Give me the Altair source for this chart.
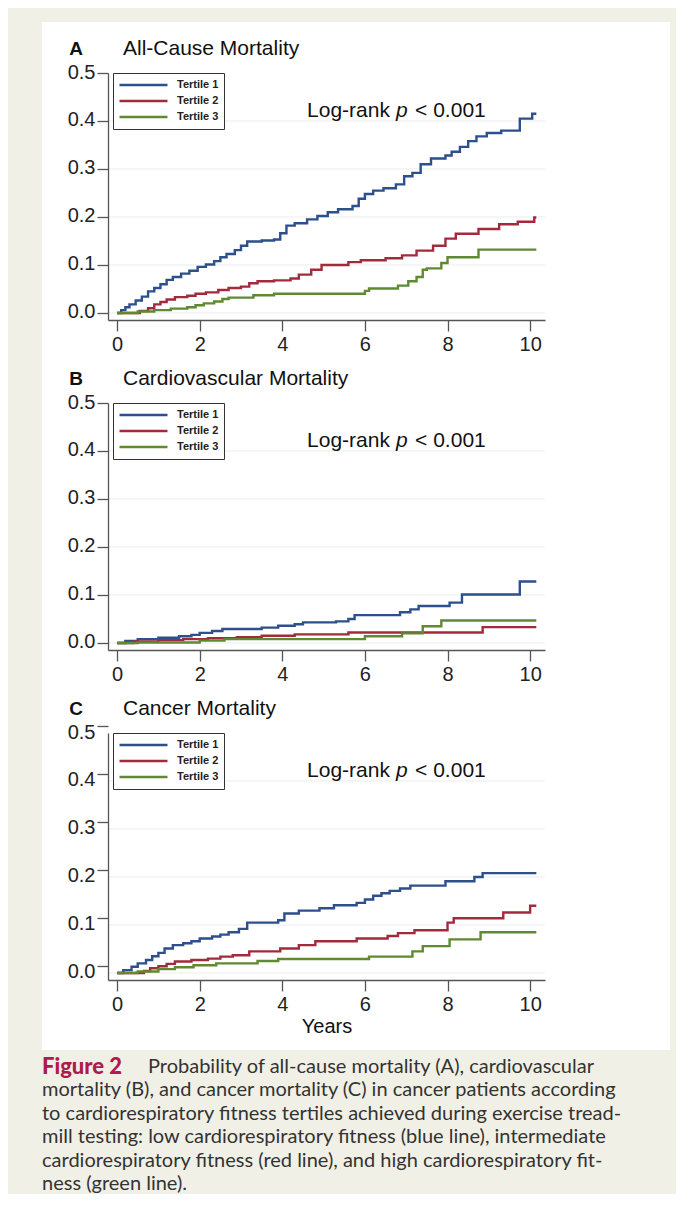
import altair as alt
import pandas as pd

TERTILES = ['Tertile 1', 'Tertile 2', 'Tertile 3']
LINE_COLORS = ['#2d4f8b', '#a22a3c', '#5f8a32']

# step points (years, cumulative probability)

# A - all-cause mortality
A_T1_YEARS = [0, 0.1, 0.2, 0.3, 0.45, 0.6, 0.75, 0.9, 1.05, 1.2, 1.35, 1.55, 1.75,
              1.95, 2.15, 2.35, 2.5, 2.65, 2.85, 3.0, 3.15, 3.5, 3.8, 3.95, 4.1,
              4.3, 4.6, 4.85, 5.1, 5.35, 5.7, 5.85, 6.0, 6.2, 6.45, 6.75, 6.95,
              7.15, 7.35, 7.6, 7.95, 8.1, 8.3, 8.5, 8.7, 8.95, 9.3, 9.75, 10.05, 10.15]
A_T1_PROB = [0, 0.006, 0.012, 0.018, 0.026, 0.034, 0.045, 0.052, 0.06, 0.069, 0.075,
             0.082, 0.088, 0.096, 0.101, 0.108, 0.116, 0.123, 0.131, 0.14, 0.149,
             0.151, 0.153, 0.166, 0.182, 0.187, 0.195, 0.202, 0.21, 0.216, 0.223,
             0.238, 0.248, 0.255, 0.26, 0.268, 0.285, 0.292, 0.31, 0.322, 0.328,
             0.336, 0.346, 0.358, 0.368, 0.375, 0.38, 0.405, 0.415, 0.415]
A_T2_YEARS = [0, 0.55, 0.75, 0.9, 1.05, 1.2, 1.4, 1.7, 1.9, 2.15, 2.45, 2.7, 3.0,
              3.2, 3.4, 3.8, 4.2, 4.4, 4.7, 4.95, 5.6, 5.9, 6.5, 6.9, 7.25, 7.65,
              7.95, 8.2, 8.75, 9.25, 9.7, 10.1, 10.15]
A_T2_PROB = [0, 0.004, 0.01, 0.018, 0.023, 0.028, 0.033, 0.036, 0.04, 0.043, 0.048,
             0.052, 0.055, 0.062, 0.066, 0.068, 0.072, 0.08, 0.09, 0.1, 0.106, 0.11,
             0.114, 0.12, 0.13, 0.14, 0.155, 0.165, 0.175, 0.185, 0.19, 0.199, 0.199]
A_T3_YEARS = [0, 0.5, 0.9, 1.3, 1.7, 1.9, 2.1, 2.35, 2.55, 2.7, 3.3, 3.8, 6.0, 6.1,
              6.8, 7.05, 7.25, 7.4, 7.5, 7.85, 8.0, 8.75, 10.15]
A_T3_PROB = [0, 0.003, 0.006, 0.009, 0.012, 0.016, 0.02, 0.024, 0.029, 0.032, 0.037,
             0.04, 0.046, 0.051, 0.057, 0.066, 0.075, 0.09, 0.093, 0.104, 0.116,
             0.132, 0.132]

# B - cardiovascular mortality
B_T1_YEARS = [0, 0.2, 0.5, 1.0, 1.5, 1.8, 2.0, 2.3, 2.55, 3.5, 3.9, 4.3, 4.5, 5.3,
              5.6, 5.75, 6.85, 7.1, 7.3, 8.05, 8.35, 9.75, 10.15]
B_T1_PROB = [0, 0.004, 0.008, 0.011, 0.014, 0.017, 0.021, 0.025, 0.029, 0.032, 0.036,
             0.039, 0.043, 0.045, 0.05, 0.058, 0.064, 0.07, 0.077, 0.084, 0.101,
             0.128, 0.128]
B_T2_YEARS = [0, 0.4, 1.0, 1.6, 2.2, 2.9, 3.5, 4.3, 5.6, 8.85, 10.15]
B_T2_PROB = [0, 0.003, 0.006, 0.008, 0.01, 0.012, 0.015, 0.018, 0.022, 0.033, 0.033]
B_T3_YEARS = [0, 0.5, 2.0, 2.6, 6.0, 6.9, 7.4, 7.85, 10.15]
B_T3_PROB = [0, 0.001, 0.005, 0.008, 0.014, 0.02, 0.035, 0.047, 0.047]

# C - cancer mortality
C_T1_YEARS = [0, 0.15, 0.35, 0.5, 0.7, 0.85, 1.0, 1.15, 1.35, 1.6, 1.8, 2.0, 2.3,
              2.5, 2.7, 2.95, 3.15, 3.9, 4.05, 4.4, 4.9, 5.25, 5.8, 6.0, 6.2, 6.4,
              6.6, 6.85, 7.1, 7.95, 8.65, 8.85, 10.15]
C_T1_PROB = [0, 0.006, 0.013, 0.02, 0.027, 0.035, 0.042, 0.051, 0.058, 0.062, 0.066,
             0.072, 0.076, 0.08, 0.085, 0.092, 0.105, 0.11, 0.124, 0.13, 0.135,
             0.141, 0.146, 0.153, 0.161, 0.166, 0.171, 0.176, 0.182, 0.191, 0.2,
             0.208, 0.208]
C_T2_YEARS = [0, 0.65, 0.8, 1.0, 1.2, 1.4, 1.8, 2.2, 2.5, 2.8, 3.2, 3.95, 4.4, 4.8,
              5.8, 6.55, 6.8, 7.2, 8.0, 8.15, 9.35, 10.0, 10.15]
C_T2_PROB = [0, 0.004, 0.01, 0.014, 0.019, 0.024, 0.027, 0.03, 0.034, 0.037, 0.045,
             0.051, 0.058, 0.066, 0.072, 0.077, 0.083, 0.089, 0.105, 0.114, 0.126,
             0.14, 0.14]
C_T3_YEARS = [0, 0.5, 1.0, 1.4, 1.85, 2.4, 3.4, 3.9, 6.1, 7.15, 7.4, 8.05, 8.8, 10.15]
C_T3_PROB = [0, 0.003, 0.008, 0.012, 0.016, 0.02, 0.025, 0.029, 0.034, 0.045, 0.056,
             0.07, 0.085, 0.085]

Y_TICKS = [0.0, 0.1, 0.2, 0.3, 0.4, 0.5]
GRID_VALUES = [0.0, 0.1, 0.2, 0.3, 0.4]
X_TICKS = [0, 2, 4, 6, 8, 10]
LOGRANK_AT = (4.6, 0.42)

CAPTION_LEAD = 'Figure 2'
CAPTION_FIRST = 'Probability of all-cause mortality (A), cardiovascular'
CAPTION_REST = [
    'mortality (B), and cancer mortality (C) in cancer patients according',
    'to cardiorespiratory fitness tertiles achieved during exercise tread-',
    'mill testing: low cardiorespiratory fitness (blue line), intermediate',
    'cardiorespiratory fitness (red line), and high cardiorespiratory fit-',
    'ness (green line).',
]

W, H = 437, 247
FONT = 'Liberation Sans'
AXIS_STYLE = dict(
    zindex=1, grid=False, domainColor='#555555', domainWidth=1.3, tickColor='#555555',
    tickWidth=1.3, labelFont=FONT, labelFontSize=20, labelColor='#222222',
)


def km_panel(letter, name, curves, backdrop=False, x_title=None, tick_offset=0):
    rows = []
    for tertile, (years, prob) in zip(TERTILES, curves):
        rows += [{'years': t, 'p': v, 'tertile': tertile} for t, v in zip(years, prob)]
    data = pd.DataFrame(rows)

    x = alt.X('years:Q', title=x_title,
              scale=alt.Scale(domain=[-0.22, 10.36], nice=False, zero=False),
              axis=alt.Axis(values=X_TICKS, tickSize=11, labelPadding=3,
                            titleFont=FONT, titleFontSize=20, titleFontWeight='normal',
                            titleColor='#111111', titlePadding=2, **AXIS_STYLE))
    y = alt.Y('p:Q', title=None,
              scale=alt.Scale(domain=[-0.0146, 0.5], nice=False, zero=False),
              axis=alt.Axis(values=Y_TICKS, format='.1f', tickSize=11, labelPadding=2,
                            tickOffset=tick_offset, labelOffset=-tick_offset - 1,
                            **AXIS_STYLE))

    grid = alt.Chart(pd.DataFrame({'p': GRID_VALUES})).mark_rule(
        color='#ececec', strokeWidth=1
    ).encode(y=y)

    lines = alt.Chart(data).mark_line(interpolate='step-after', strokeWidth=2.4).encode(
        x=x, y=y,
        color=alt.Color('tertile:N', scale=alt.Scale(domain=TERTILES, range=LINE_COLORS),
                        legend=alt.Legend(
                            title=None, orient='none', legendX=5, legendY=0,
                            symbolType='stroke', symbolSize=2300, symbolStrokeWidth=2.5,
                            clipHeight=14, rowPadding=2, padding=5, labelOffset=8,
                            labelFont=FONT, labelFontSize=11, labelFontWeight='bold',
                            labelColor='#222222', strokeColor='#333333',
                            fillColor='white')),
    )

    note = pd.DataFrame({'years': [LOGRANK_AT[0]], 'p': [LOGRANK_AT[1]]})
    note_style = dict(align='left', baseline='middle', font=FONT, fontSize=21, color='#111111')
    logrank = alt.Chart(note).mark_text(text='Log-rank', **note_style).encode(x=x, y=y)
    p_sym = alt.Chart(note).mark_text(text='p', dx=89, fontStyle='italic', **note_style).encode(x=x, y=y)
    p_val = alt.Chart(note).mark_text(text='< 0.001', dx=108, **note_style).encode(x=x, y=y)

    head = pd.DataFrame({'letter': [letter], 'name': [name]})
    tag = alt.Chart(head).mark_text(
        align='center', baseline='middle', font=FONT, fontSize=19, fontWeight='bold', color='#111111'
    ).encode(x=alt.value(-32), y=alt.value(-24), text='letter:N')
    title = alt.Chart(head).mark_text(
        align='left', baseline='middle', font=FONT, fontSize=21, color='#111111'
    ).encode(x=alt.value(15), y=alt.value(-24), text='name:N')

    layers = [grid, lines, logrank, p_sym, p_val, tag, title]
    if backdrop:
        # white figure panel behind all three plots
        panel = alt.Chart(pd.DataFrame({'k': [0]})).mark_rect(color='white').encode(
            x=alt.value(-66), x2=alt.value(562), y=alt.value(-51), y2=alt.value(977)
        )
        layers = [panel] + layers
    return alt.layer(*layers).properties(width=W, height=H)


chart_a = km_panel('A', 'All-Cause Mortality',
                   [(A_T1_YEARS, A_T1_PROB), (A_T2_YEARS, A_T2_PROB), (A_T3_YEARS, A_T3_PROB)],
                   backdrop=True)
chart_b = km_panel('B', 'Cardiovascular Mortality',
                   [(B_T1_YEARS, B_T1_PROB), (B_T2_YEARS, B_T2_PROB), (B_T3_YEARS, B_T3_PROB)])
chart_c = km_panel('C', 'Cancer Mortality',
                   [(C_T1_YEARS, C_T1_PROB), (C_T2_YEARS, C_T2_PROB), (C_T3_YEARS, C_T3_PROB)],
                   x_title='Years', tick_offset=-7)

# caption block underneath
cy = alt.Y('line:Q', axis=None,
           scale=alt.Scale(domain=[-0.17, 5.3], reverse=True, nice=False, zero=False))
cap_style = dict(align='left', baseline='middle', font='Lato', fontSize=20, color='#333333')
first = pd.DataFrame({'line': [0], 'lead': [CAPTION_LEAD], 'text': [CAPTION_FIRST]})
rest = pd.DataFrame({'line': list(range(1, len(CAPTION_REST) + 1)), 'text': CAPTION_REST})
lead = alt.Chart(first).mark_text(
    align='left', baseline='middle', font='Lato', fontSize=22, fontWeight=900, color='#b0194c'
).encode(x=alt.value(-66), y=cy, text='lead:N')
line0 = alt.Chart(first).mark_text(dx=106, **cap_style).encode(x=alt.value(-66), y=cy, text='text:N')
body = alt.Chart(rest).mark_text(**cap_style).encode(x=alt.value(-66), y=cy, text='text:N')
caption = alt.layer(lead, line0, body).properties(width=W, height=128)

chart = alt.vconcat(
    chart_a, chart_b, chart_c, caption, spacing=83, bounds='flush'
).resolve_scale(
    color='independent', x='independent', y='independent'
).properties(
    background='#f1f0e6',
    padding={'left': 34, 'top': 14, 'right': 6, 'bottom': 0},
).configure_view(stroke=None)

chart.save('out.html', embed_options={'renderer': 'svg', 'actions': False})
